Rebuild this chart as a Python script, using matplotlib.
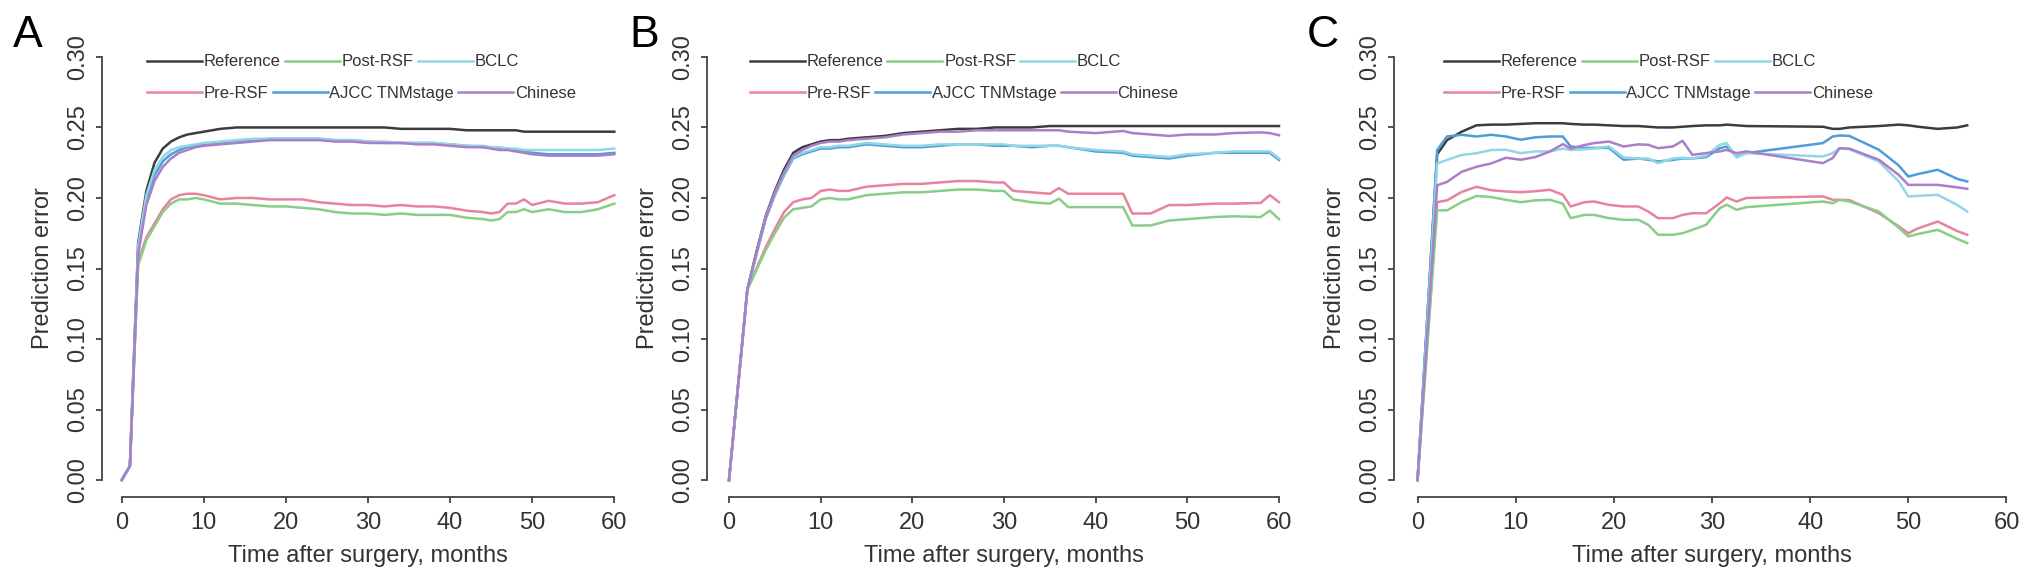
import numpy as np
import matplotlib
matplotlib.use('Agg')
import matplotlib.pyplot as plt

plt.rcParams['font.family'] = ['Liberation Sans', 'DejaVu Sans']

# ---------------- data ----------------
names = ['Reference', 'Pre-RSF', 'Post-RSF', 'AJCC TNMstage', 'BCLC', 'Chinese']
colors = ['#3c3c3c', '#e8829f', '#8acd88', '#4c9ed8', '#92d6e6', '#ab7fc8']

# panel A
months_a = [0, 1, 2, 3, 4, 5, 6, 7, 8, 9, 10,
            12, 14, 16, 18, 20, 22, 24, 26, 28, 30, 32, 34, 36, 38, 40, 42, 44,
            45, 46, 47, 48, 49, 50,
            52, 54, 56, 58, 60]
ref_a = [0, .010, .168, .205, .225, .235, .240, .243, .245, .246, .247,
         .249, .250, .250, .250, .250, .250, .250, .250, .250, .250, .250, .249, .249, .249, .249, .248, .248,
         .248, .248, .248, .248, .247, .247,
         .247, .247, .247, .247, .247]
pre_a = [0, .010, .155, .172, .182, .192, .199, .202, .203, .203, .202,
         .199, .200, .200, .199, .199, .199, .197, .196, .195, .195, .194, .195, .194, .194, .193, .191, .190,
         .189, .190, .196, .196, .199, .195,
         .198, .196, .196, .197, .202]
post_a = [0, .010, .152, .170, .180, .190, .196, .199, .199, .200, .199,
          .196, .196, .195, .194, .194, .193, .192, .190, .189, .189, .188, .189, .188, .188, .188, .186, .185,
          .184, .185, .190, .190, .192, .190,
          .192, .190, .190, .192, .196]
ajcc_a = [0, .010, .163, .198, .216, .226, .231, .234, .236, .237, .238,
          .239, .240, .241, .242, .242, .242, .242, .241, .241, .240, .239, .239, .239, .239, .238, .237, .236,
          .236, .235, .235, .234, .233, .232,
          .231, .231, .231, .231, .232]
bclc_a = [0, .010, .166, .202, .220, .229, .234, .236, .237, .238, .239,
          .240, .241, .242, .242, .242, .242, .242, .241, .241, .240, .240, .239, .239, .239, .238, .237, .237,
          .236, .236, .235, .235, .234, .234,
          .234, .234, .234, .234, .235]
chinese_a = [0, .010, .160, .195, .212, .222, .228, .232, .234, .236, .237,
             .238, .239, .240, .241, .241, .241, .241, .240, .240, .239, .239, .239, .238, .238, .237, .236, .236,
             .235, .234, .234, .233, .232, .231,
             .230, .230, .230, .230, .231]

# panel B
months_b = [0, 2, 3, 4, 5, 6, 7, 8, 9, 10,
            11, 12, 13,
            15, 17, 19, 21, 23, 25, 27, 29,
            30, 31, 33, 35, 36, 37,
            40, 43, 44, 46, 48, 50,
            53, 55, 58, 59, 60]
ref_b = [0, .135, .162, .187, .205, .220, .232, .236, .238, .240,
         .241, .241, .242,
         .243, .244, .246, .247, .248, .249, .249, .250,
         .250, .250, .250, .251, .251, .251,
         .251, .251, .251, .251, .251, .251,
         .251, .251, .251, .251, .251]
pre_b = [0, .135, .150, .165, .178, .190, .197, .199, .200, .205,
         .206, .205, .205,
         .208, .209, .210, .210, .211, .212, .212, .211,
         .211, .205, .204, .203, .207, .203,
         .203, .203, .189, .189, .195, .195,
         .196, .196, .1965, .202, .197]
post_b = [0, .135, .149, .163, .175, .186, .192, .193, .194, .199,
          .200, .199, .199,
          .202, .203, .204, .204, .205, .206, .206, .205,
          .205, .199, .197, .196, .1995, .1935,
          .1935, .1935, .1805, .1805, .184, .185,
          .1865, .187, .1865, .191, .185]
ajcc_b = [0, .135, .160, .185, .202, .216, .228, .231, .233, .235,
          .235, .236, .236,
          .238, .237, .236, .236, .237, .238, .238, .237,
          .237, .237, .236, .237, .237, .236,
          .233, .232, .230, .229, .228, .230,
          .232, .232, .232, .232, .227]
bclc_b = [0, .135, .160, .186, .203, .217, .229, .232, .234, .236,
          .236, .237, .237,
          .239, .238, .237, .237, .238, .238, .238, .238,
          .238, .237, .237, .237, .237, .236,
          .234, .233, .231, .230, .229, .231,
          .232, .233, .233, .233, .228]
chinese_b = [0, .135, .161, .186, .204, .218, .230, .234, .237, .239,
             .240, .240, .241,
             .242, .243, .245, .246, .247, .247, .248, .248,
             .248, .248, .248, .248, .248, .247,
             .246, .2475, .246, .245, .244, .245,
             .245, .246, .2465, .246, .2445]

# panel C
months_c = [0, 2, 3, 4.5, 6, 7.5, 9, 10.5, 12, 13.5,
            14.8, 15.6, 17, 18, 19.5, 21, 22.5, 23.5, 24.5, 26,
            27, 28, 29.4, 30.8, 31.5, 32.5, 33.5, 41.3, 42.3, 43,
            44, 47, 49, 50, 51, 53, 55, 56]
ref_c = [0, .231, .241, .247, .2515, .252, .252, .2525, .253, .253,
         .253, .2525, .252, .252, .2515, .251, .251, .2505, .250, .250,
         .2505, .251, .2515, .2515, .252, .2515, .251, .2505, .249, .249,
         .250, .251, .252, .2515, .2505, .249, .250, .2515]
pre_c = [0, .1971, .1983, .2043, .2079, .2055, .2046, .2041, .2048, .2058,
         .2022, .194, .197, .1975, .1951, .194, .194, .1904, .1857, .1857,
         .188, .1892, .1892, .1963, .2004, .1975, .200, .2011, .1987, .1987,
         .1985, .1892, .180, .175, .1785, .1833, .1765, .1739]
post_c = [0, .1912, .1912, .1971, .2014, .2007, .1987, .197, .1983, .1987,
          .196, .1857, .188, .188, .1857, .1845, .1845, .181, .1739, .1739,
          .175, .1774, .181, .1928, .1952, .1916, .1935, .1975, .1963, .1987,
          .1975, .1904, .179, .1727, .1745, .1774, .171, .168]
ajcc_c = [0, .234, .2436, .2448, .2436, .2448, .2436, .2413, .243, .2436,
          .2436, .2365, .2355, .2355, .2355, .2271, .228, .2271, .2259, .227,
          .228, .228, .229, .2353, .2365, .2294, .2318, .2389, .2436, .2443,
          .244, .2342, .2232, .2152, .217, .220, .2135, .2117]
bclc_c = [0, .2245, .227, .2305, .2317, .234, .2342, .2318, .233, .233,
          .235, .234, .2345, .235, .2365, .2287, .228, .228, .2247, .228,
          .2285, .228, .230, .2377, .2389, .2287, .2318, .2294, .2318, .2353,
          .2345, .2259, .212, .2011, .2015, .2022, .195, .1904]
chinese_c = [0, .209, .2114, .2186, .2221, .2245, .2285, .2271, .229, .233,
             .2382, .235, .2375, .2389, .240, .2365, .238, .2377, .2353, .2365,
             .2405, .2306, .2318, .233, .2341, .2318, .233, .2247, .2283, .2353,
             .235, .2271, .2165, .2093, .2093, .2093, .2075, .2065]

panels = [
    ('A', months_a, [ref_a, pre_a, post_a, ajcc_a, bclc_a, chinese_a]),
    ('B', months_b, [ref_b, pre_b, post_b, ajcc_b, bclc_b, chinese_b]),
    ('C', months_c, [ref_c, pre_c, post_c, ajcc_c, bclc_c, chinese_c]),
]

# ---------------- figure ----------------
W, H = 2032, 582
fig = plt.figure(figsize=(W / 100, H / 100), dpi=100)

# axes boxes in pixels: left, right
boxes = [(102, 634), (707, 1301), (1394, 2030)]
letter_x = [13, 629, 1307]
leg_x = [0.085, 0.072, 0.079]
top_px, bot_px = 40, 497
axcol = '#444444'

for (letter, months, series), (l, r), lx, lgx in zip(panels, boxes, letter_x, leg_x):
    ax = fig.add_axes([l / W, (H - bot_px) / H, (r - l) / W, (bot_px - top_px) / H])
    lines = []
    for y, c, n in zip(series, colors, names):
        ln, = ax.plot(months, y, color=c, lw=1.8, label=n, solid_joinstyle='round')
        lines.append(ln)
    ax.set_xlim(-2.4, 62.4)
    ax.set_ylim(-0.012, 0.312)
    ax.set_xticks(np.arange(0, 61, 10))
    ax.set_yticks(np.arange(0, 0.31, 0.05))
    ax.set_yticklabels(['%.2f' % v for v in np.arange(0, 0.31, 0.05)])
    for s in ['top', 'right']:
        ax.spines[s].set_visible(False)
    ax.spines['left'].set_bounds(0, 0.30)
    ax.spines['bottom'].set_bounds(0, 60)
    for s in ['left', 'bottom']:
        ax.spines[s].set_linewidth(1.3)
        ax.spines[s].set_color(axcol)
    ax.tick_params(length=4, width=1.3, color=axcol, labelcolor='#333333',
                   labelsize=17)
    ax.tick_params(axis='x', pad=7)
    ax.tick_params(axis='y', pad=5)
    for t in ax.get_yticklabels():
        t.set_rotation(90)
        t.set_va('center')
    ax.set_xlabel('Time after surgery, months', fontsize=17, color='#333333', labelpad=8)
    ax.set_ylabel('Prediction error', fontsize=17, color='#333333', labelpad=10)

    # two legend rows, as in R's horizontal legends
    row1 = [lines[0], lines[2], lines[4]]
    row2 = [lines[1], lines[3], lines[5]]
    kw = dict(loc='center left', frameon=False, ncol=3, fontsize=12,
              handlelength=3.3, handletextpad=0.1, columnspacing=0.25,
              borderpad=0, borderaxespad=0, labelcolor='#333333')
    leg1 = ax.legend(row1, [l_.get_label() for l_ in row1],
                     bbox_to_anchor=(lgx, 0.952), **kw)
    ax.add_artist(leg1)
    ax.legend(row2, [l_.get_label() for l_ in row2],
              bbox_to_anchor=(lgx, 0.884), **kw)

    fig.text(lx / W, 1 - 47 / H, letter, fontsize=32, color='black',
             ha='left', va='baseline')

fig.savefig('out.png', dpi=100)
